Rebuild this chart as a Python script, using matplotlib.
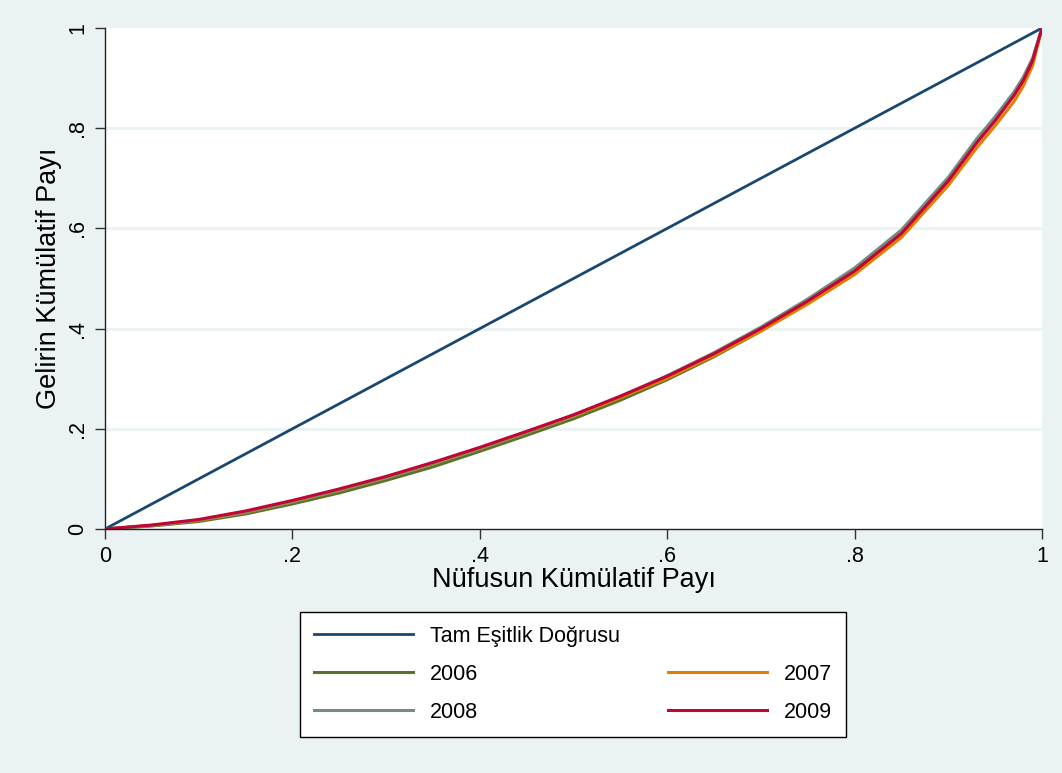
import matplotlib
matplotlib.use('Agg')
import matplotlib.pyplot as plt
from matplotlib.lines import Line2D

# population share (x) and cumulative income share per year
pop_share = [0, .05, .1, .15, .2, .25, .3, .35, .4, .45, .5, .55, .6, .65, .7,
             .75, .8, .85, .9, .93, .95, .97, .98, .99, 1]
y2006 = [0, .006, .015, .030, .050, .072, .097, .124, .155, .187, .220, .257, .298,
         .344, .395, .451, .513, .589, .695, .772, .818, .867, .897, .936, 1]
y2007 = [0, .007, .017, .033, .054, .077, .102, .130, .160, .192, .225, .262, .301,
         .346, .395, .449, .508, .582, .686, .760, .805, .853, .884, .925, 1]
y2008 = [0, .007, .018, .034, .055, .078, .103, .131, .161, .193, .227, .265, .306,
         .352, .403, .459, .521, .597, .702, .778, .823, .872, .902, .940, 1]
y2009 = [0, .008, .019, .036, .057, .080, .105, .133, .163, .195, .228, .265, .305,
         .350, .400, .455, .515, .590, .695, .770, .815, .865, .895, .935, 1]

years = ['2006', '2007', '2008', '2009']
series = [y2006, y2007, y2008, y2009]
colors = ['#55752f', '#e37e00', '#6e8e84', '#c10534']
eq_label = 'Tam Eşitlik Doğrusu'
ticks = [0, .2, .4, .6, .8, 1]
tick_labels = ['0', '.2', '.4', '.6', '.8', '1']

plt.rcParams['font.family'] = ['Liberation Sans', 'DejaVu Sans']
bg = '#eaf2f3'

fig = plt.figure(figsize=(10.62, 7.73), dpi=100, facecolor=bg)
ax = fig.add_axes([105 / 1062, 1 - 529 / 773, 937 / 1062, 501 / 773])
ax.set_facecolor('white')

for yv in ticks[1:-1]:
    ax.axhline(yv, color=bg, lw=2, zorder=0)

eq_line, = ax.plot(pop_share, pop_share, color='#1a476f', lw=2)
handles = {}
for name, ys, c in zip(years, series, colors):
    handles[name], = ax.plot(pop_share, ys, color=c, lw=2.2)

ax.set_xlim(0, 1)
ax.set_ylim(0, 1)
ax.set_xticks(ticks)
ax.set_xticklabels(tick_labels, fontsize=15.5)
ax.set_yticks(ticks)
ax.set_yticklabels(tick_labels, fontsize=15.5, rotation=90, va='center')
ax.tick_params(direction='out', length=7, width=1, color='#333333', pad=5)
for s in ['top', 'right']:
    ax.spines[s].set_visible(False)
for s in ['left', 'bottom']:
    ax.spines[s].set_color('#222222')
    ax.spines[s].set_linewidth(1)

ax.set_xlabel('Nüfusun Kümülatif Payı', fontsize=19.5, labelpad=0)
ax.set_ylabel('Gelirin Kümülatif Payı', fontsize=19.5, labelpad=4)

blank = Line2D([], [], color='none')
leg = fig.legend([eq_line, handles['2006'], handles['2008'], blank, handles['2007'], handles['2009']],
                 [eq_label, '2006', '2008', '', '2007', '2009'],
                 ncol=2, loc='upper center', bbox_to_anchor=(573 / 1062, 1 - 612 / 773),
                 borderaxespad=0, fontsize=15.5, handlelength=4.6, handletextpad=0.8,
                 columnspacing=2.2, labelspacing=0.78, borderpad=0.65, fancybox=False,
                 framealpha=1, edgecolor='black', facecolor='white')
leg.get_frame().set_linewidth(1)

plt.savefig('out.png', dpi=100, facecolor=bg)
